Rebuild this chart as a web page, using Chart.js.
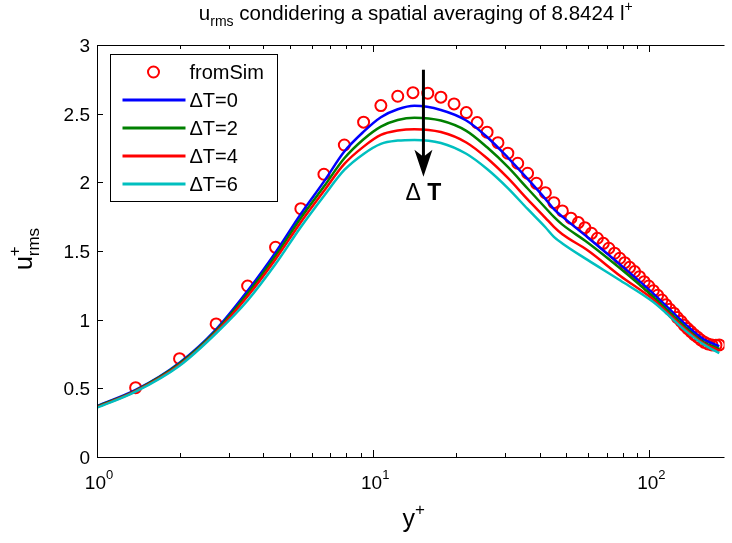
<!DOCTYPE html>
<html>
<head>
<meta charset="utf-8">
<script src="https://cdn.jsdelivr.net/npm/chart.js@4/dist/chart.umd.min.js"></script>
<style>
  html, body { margin: 0; padding: 0; background: #fff; }
</style>
</head>
<body>
<canvas id="urmsChart" width="732" height="543"></canvas>
<script>
// simulation points (y+, u+rms)
const yPlusSim = [1.38, 1.99, 2.70, 3.51, 4.43, 5.47, 6.63, 7.86, 9.23, 10.66, 12.27, 13.93, 15.76, 17.58,
    19.62, 21.73, 23.79, 25.84, 28.29, 30.72, 33.36, 36.22, 39.0, 42.0, 45.1, 48.4, 52.0, 55.3, 58.4,
    61.7, 64.8, 68.1, 71.3, 74.8, 78.1, 81.4, 84.8, 88.4, 92.1, 95.7, 99.4, 103.3, 107.1, 111.0, 114.7,
    118.6, 122.6, 126.2, 130.2, 133.8, 137.5, 141.3, 145.2, 149.4, 153.5, 158.2, 163.0, 168.5, 174.1, 179.0];
const uSim = [0.505, 0.716, 0.969, 1.245, 1.527, 1.808, 2.059, 2.272, 2.438, 2.559, 2.627, 2.653, 2.649, 2.620,
    2.571, 2.508, 2.435, 2.365, 2.289, 2.212, 2.139, 2.066, 1.993, 1.925, 1.852, 1.792, 1.739, 1.707, 1.670,
    1.629, 1.593, 1.556, 1.520, 1.484, 1.447, 1.415, 1.381, 1.350, 1.313, 1.277, 1.245, 1.211, 1.178, 1.143, 1.109,
    1.075, 1.047, 1.015, 0.988, 0.959, 0.935, 0.913, 0.891, 0.872, 0.852, 0.835, 0.823, 0.816, 0.814, 0.816];

// filtered profiles
const yPlusLine = [1, 1.38, 1.99, 2.70, 3.51, 4.43, 5.47, 6.63, 7.86, 9.23, 10.66, 12.27, 14.1, 17.58,
    21.73, 25.84, 30.72, 36.22, 42.0, 45.1, 48.4, 59.7, 78.5, 103.3, 136, 155.8, 179];
const uDT0 = [0.371, 0.488, 0.687, 0.930, 1.21, 1.49, 1.77, 2.005, 2.224, 2.369, 2.474, 2.532, 2.557, 2.527,
    2.450, 2.330, 2.180, 2.025, 1.880, 1.805, 1.750, 1.600, 1.400, 1.190, 0.960, 0.862, 0.806];
const uDT2 = [0.367, 0.484, 0.680, 0.920, 1.19, 1.465, 1.74, 1.969, 2.175, 2.314, 2.406, 2.454, 2.471, 2.450,
    2.375, 2.255, 2.112, 1.955, 1.815, 1.748, 1.692, 1.562, 1.372, 1.166, 0.938, 0.840, 0.787];
const uDT4 = [0.363, 0.480, 0.672, 0.910, 1.17, 1.44, 1.71, 1.937, 2.134, 2.260, 2.345, 2.377, 2.387, 2.366,
    2.290, 2.175, 2.032, 1.876, 1.742, 1.676, 1.622, 1.505, 1.318, 1.146, 0.925, 0.832, 0.775];
const uDT6 = [0.359, 0.476, 0.665, 0.901, 1.14, 1.405, 1.675, 1.901, 2.090, 2.207, 2.280, 2.304, 2.309, 2.287,
    2.208, 2.097, 1.958, 1.806, 1.673, 1.603, 1.555, 1.435, 1.285, 1.128, 0.915, 0.824, 0.757];

const seriesLabels = ["fromSim", "ΔT=0", "ΔT=2", "ΔT=4", "ΔT=6"];
const lineColors = ["#0000ff", "#008000", "#ff0000", "#00bfbf"];
const yTicks = [0, 0.5, 1, 1.5, 2, 2.5, 3];
const xMajorTicks = [1, 10, 100];
const xMajorExp = ["0", "1", "2"];

const FONT = "'Liberation Sans', Arial, Helvetica, sans-serif";

function pts(xs, ys) {
    return xs.map((v, i) => ({ x: v, y: ys[i] }));
}

// text made of pieces, with sub/superscripts
function richWidth(ctx, parts) {
    let w = 0;
    parts.forEach(p => {
        ctx.font = (p.bold ? "bold " : "") + p.size + "px " + FONT;
        const pw = ctx.measureText(p.t).width;
        if (!p.stack) w += pw;
    });
    return w;
}

function drawRich(ctx, parts, x, y) {
    let cx = x;
    parts.forEach(p => {
        ctx.font = (p.bold ? "bold " : "") + p.size + "px " + FONT;
        ctx.fillText(p.t, cx, y + (p.dy || 0));
        if (!p.stack) cx += ctx.measureText(p.t).width;
    });
}

const decorPlugin = {
    id: "decor",
    afterDraw(chart) {
        const { ctx, chartArea: a, scales: { x, y } } = chart;
        ctx.save();
        ctx.strokeStyle = "#000";
        ctx.fillStyle = "#000";
        ctx.lineWidth = 1;

        // axes box
        ctx.beginPath();
        ctx.moveTo(a.right, a.top + 0.5);
        ctx.lineTo(a.left + 0.5, a.top + 0.5);
        ctx.lineTo(a.left + 0.5, a.bottom + 0.5);
        ctx.lineTo(a.right, a.bottom + 0.5);
        ctx.stroke();

        // y ticks
        ctx.font = "19px " + FONT;
        ctx.textAlign = "right";
        ctx.textBaseline = "middle";
        yTicks.forEach(v => {
            const py = Math.round(y.getPixelForValue(v)) + 0.5;
            ctx.beginPath();
            ctx.moveTo(a.left, py);
            ctx.lineTo(a.left + 6, py);
            ctx.stroke();
            ctx.fillText(String(v), a.left - 7, py + 1);
        });

        // x ticks, major and minor, bottom and top
        xMajorTicks.forEach(d => {
            for (let k = 1; k <= 9; k++) {
                const v = k * d;
                if (v > x.max) break;
                const px = Math.round(x.getPixelForValue(v)) + 0.5;
                const len = k === 1 ? 7 : 4;
                ctx.beginPath();
                ctx.moveTo(px, a.bottom);
                ctx.lineTo(px, a.bottom - len);
                ctx.moveTo(px, a.top);
                ctx.lineTo(px, a.top + len);
                ctx.stroke();
            }
        });

        // x tick labels 10^n
        ctx.textAlign = "left";
        ctx.textBaseline = "alphabetic";
        xMajorTicks.forEach((v, i) => {
            const parts = [{ t: "10", size: 19 }, { t: xMajorExp[i], size: 13, dy: -10 }];
            const w = richWidth(ctx, parts);
            drawRich(ctx, parts, x.getPixelForValue(v) - w / 2 + 2, a.bottom + 32);
        });

        // title
        const title = [
            { t: "u", size: 20.5 },
            { t: "rms", size: 14, dy: 6 },
            { t: " condidering a spatial averaging of 8.8424 l", size: 20.5 },
            { t: "+", size: 14, dy: -9 }
        ];
        const tw = richWidth(ctx, title);
        drawRich(ctx, title, (a.left + a.right) / 2 - tw / 2 + 5, 20);

        // x axis label
        const xl = [{ t: "y", size: 25 }, { t: "+", size: 17, dy: -12 }];
        const xw = richWidth(ctx, xl);
        drawRich(ctx, xl, (a.left + a.right) / 2 - xw / 2 + 3, 527);

        // y axis label, rotated
        ctx.save();
        ctx.translate(32, 0);
        ctx.rotate(-Math.PI / 2);
        const yl = [
            { t: "u", size: 25 },
            { t: "+", size: 17, dy: -12, stack: true },
            { t: "rms", size: 17, dy: 7 }
        ];
        const yw = richWidth(ctx, yl);
        drawRich(ctx, yl, -(249 + yw / 2), 0);
        ctx.restore();

        // arrow showing decrease with ΔT
        const ax = x.getPixelForValue(15.2);
        const ay0 = y.getPixelForValue(2.82);
        const ay1 = y.getPixelForValue(2.04);
        ctx.lineWidth = 3;
        ctx.beginPath();
        ctx.moveTo(ax, ay0);
        ctx.lineTo(ax, ay1 - 18);
        ctx.stroke();
        ctx.beginPath();
        ctx.moveTo(ax, ay1);
        ctx.lineTo(ax - 9, ay1 - 27);
        ctx.lineTo(ax, ay1 - 20);
        ctx.lineTo(ax + 9, ay1 - 27);
        ctx.closePath();
        ctx.fill();

        const lab = [{ t: "Δ ", size: 23 }, { t: "T", size: 23, bold: true }];
        const lw = richWidth(ctx, lab);
        drawRich(ctx, lab, ax - lw / 2, y.getPixelForValue(1.872));

        // legend box
        ctx.lineWidth = 1;
        const lx = a.left + 13.5, ly = a.top + 9.5;
        ctx.fillStyle = "#fff";
        ctx.fillRect(lx, ly, 167, 147);
        ctx.strokeRect(lx, ly, 167, 147);
        ctx.font = "20px " + FONT;
        ctx.textAlign = "left";
        ctx.textBaseline = "middle";
        seriesLabels.forEach((lbl, i) => {
            const ry = ly + 17.5 + i * 28;
            if (i === 0) {
                ctx.strokeStyle = "#ff0000";
                ctx.lineWidth = 2;
                ctx.beginPath();
                ctx.arc(lx + 43, ry, 5.5, 0, Math.PI * 2);
                ctx.stroke();
            } else {
                ctx.strokeStyle = lineColors[i - 1];
                ctx.lineWidth = 3;
                ctx.beginPath();
                ctx.moveTo(lx + 12, ry);
                ctx.lineTo(lx + 75, ry);
                ctx.stroke();
            }
            ctx.fillStyle = "#000";
            ctx.fillText(lbl, lx + 79, ry + 1);
        });
        ctx.restore();
    }
};

const lineSeries = [uDT0, uDT2, uDT4, uDT6];

new Chart(document.getElementById("urmsChart"), {
    type: "scatter",
    data: {
        datasets: [
            {
                label: seriesLabels[0],
                data: pts(yPlusSim, uSim),
                showLine: false,
                pointRadius: 5.5,
                pointBorderWidth: 2,
                borderColor: "#ff0000",
                backgroundColor: "rgba(0,0,0,0)",
                order: 5
            },
            ...lineSeries.map((s, i) => ({
                label: seriesLabels[i + 1],
                data: pts(yPlusLine, s),
                showLine: true,
                borderColor: lineColors[i],
                backgroundColor: lineColors[i],
                borderWidth: 2.5,
                pointRadius: 0,
                cubicInterpolationMode: "monotone",
                order: 4 - i
            }))
        ]
    },
    options: {
        responsive: false,
        animation: false,
        layout: { padding: { left: 97, top: 45, right: 0, bottom: 86 } },
        scales: {
            x: { type: "logarithmic", min: 1, max: 187, display: false },
            y: { min: 0, max: 3, display: false }
        },
        plugins: {
            legend: { display: false },
            tooltip: { enabled: false }
        }
    },
    plugins: [decorPlugin]
});
</script>
</body>
</html>
